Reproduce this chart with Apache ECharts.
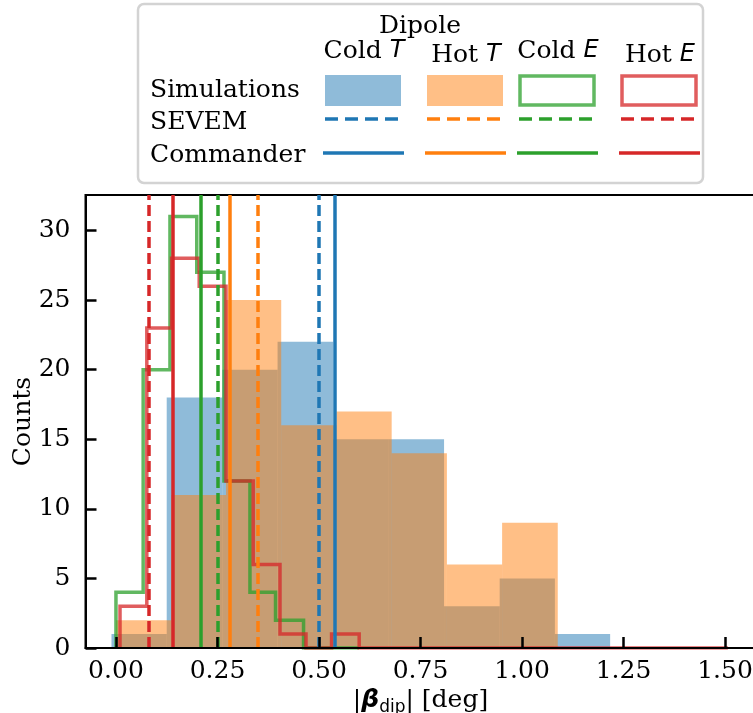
<!DOCTYPE html>
<html>
<head>
<meta charset="utf-8">
<script src="https://cdn.jsdelivr.net/npm/echarts@6/dist/echarts.min.js"></script>
<style>
  html, body { margin: 0; padding: 0; background: #fff; }
  #chart { width: 753px; height: 713px; }
</style>
</head>
<body>
<div id="chart"></div>
<script>
// bin edges / counts
var coldTEdges = [-0.011, 0.125, 0.262, 0.398, 0.535, 0.672, 0.808, 0.945, 1.081, 1.217]
var coldTCounts = [1, 18, 20, 22, 15, 15, 3, 5, 1]
var hotTEdges = [0.0, 0.136, 0.271, 0.407, 0.543, 0.679, 0.815, 0.951, 1.088]
var hotTCounts = [2, 11, 25, 16, 17, 14, 6, 9]
var coldEEdges = [0.0, 0.067, 0.133, 0.199, 0.266, 0.330, 0.393, 0.462, 0.530, 0.598]
var coldECounts = [4, 20, 31, 27, 12, 4, 2, 0, 0]
var hotEEdges = [0.010, 0.076, 0.137, 0.205, 0.271, 0.338, 0.404, 0.468, 0.531, 0.599, 1.507]
var hotECounts = [3, 23, 28, 26, 12, 6, 1, 0, 1, 0]

// observed values (vertical lines)
var sevem = { coldT: 0.500, hotT: 0.347, coldE: 0.254, hotE: 0.081 }
var commander = { coldT: 0.541, hotT: 0.277, coldE: 0.215, hotE: 0.144 }

var xTicks = [0, 0.25, 0.5, 0.75, 1.0, 1.25, 1.5]
var yTicks = [0, 5, 10, 15, 20, 25, 30]

var C = {
  blue: '#1f77b4',
  orange: '#ff7f0e',
  green: '#2ca02c',
  red: '#d62728'
}
var SERIF = 'DejaVu Serif'
var FS = 25

function barData(edges, counts) {
  return counts.map(function (c, i) { return [edges[i], edges[i + 1], c] })
}
function stepData(edges, counts) {
  var pts = [[edges[0], 0]]
  counts.forEach(function (c, i) {
    pts.push([edges[i], c])
    pts.push([edges[i + 1], c])
  })
  pts.push([edges[edges.length - 1], 0])
  return pts
}
function histSeries(edges, counts, fill) {
  return {
    type: 'custom',
    z: 2,
    silent: true,
    encode: { x: [0, 1], y: 2 },
    data: barData(edges, counts),
    renderItem: function (params, api) {
      var p0 = api.coord([api.value(0), api.value(2)])
      var p1 = api.coord([api.value(1), 0])
      return {
        type: 'rect',
        shape: { x: p0[0], y: p0[1], width: p1[0] - p0[0], height: p1[1] - p0[1] },
        style: { fill: fill }
      }
    }
  }
}
function stepSeries(edges, counts, color) {
  return {
    type: 'line',
    z: 3,
    silent: true,
    showSymbol: false,
    data: stepData(edges, counts),
    lineStyle: { color: color, width: 3.5, opacity: 0.75, join: 'miter' }
  }
}
function vline(value, color, dashed) {
  return {
    type: 'line',
    z: 4,
    silent: true,
    data: [],
    markLine: {
      silent: true,
      symbol: ['none', 'none'],
      label: { show: false },
      lineStyle: { color: color, width: 3.5, type: dashed ? [11, 5] : 'solid', opacity: 1 },
      data: [{ xAxis: value }]
    }
  }
}

// legend (drawn by hand, matrix layout)
var colX = [325, 427, 519, 621]
var colHead = ['Cold {i|T}', 'Hot {i|T}', 'Cold {i|E}', 'Hot {i|E}']
var colHeadY = [51, 55, 51, 55]
var colColor = [C.blue, C.orange, C.green, C.red]
var legendEls = [
  {
    type: 'rect', shape: { x: 138, y: 4, width: 565, height: 179, r: 6 },
    style: { fill: '#fff', stroke: '#d3d3d3', lineWidth: 2.5 }, z: 10
  },
  {
    type: 'text', x: 420, y: 26, z: 11,
    style: { text: 'Dipole', font: FS + 'px "' + SERIF + '"', fill: '#000', align: 'center', verticalAlign: 'middle' }
  }
]
;['Simulations', 'SEVEM', 'Commander'].forEach(function (t, i) {
  legendEls.push({
    type: 'text', x: 150, y: [90, 122, 155][i], z: 11,
    style: { text: t, font: FS + 'px "' + SERIF + '"', fill: '#000', align: 'left', verticalAlign: 'middle' }
  })
})
colX.forEach(function (x, i) {
  legendEls.push({
    type: 'text', x: x + 39, y: colHeadY[i], z: 11,
    style: {
      text: colHead[i], fill: '#000', align: 'center', verticalAlign: 'middle',
      font: FS + 'px "' + SERIF + '"',
      rich: { i: { fontFamily: 'DejaVu Sans', fontStyle: 'italic', fontSize: FS - 1 } }
    }
  })
  var filled = i < 2
  legendEls.push({
    type: 'rect', z: 11,
    shape: filled ? { x: x, y: 75, width: 76, height: 31 } : { x: x + 1, y: 76, width: 74, height: 29 },
    style: filled
      ? { fill: colColor[i], opacity: 0.5 }
      : { fill: 'none', stroke: colColor[i], lineWidth: 3.5, opacity: 0.75 }
  })
  legendEls.push({
    type: 'line', z: 11,
    shape: { x1: x, y1: 119, x2: x + 76, y2: 119 },
    style: { stroke: colColor[i], lineWidth: 3.5, lineDash: [13, 7] }
  })
  legendEls.push({
    type: 'line', z: 11,
    shape: { x1: x - 2, y1: 153, x2: x + 79, y2: 153 },
    style: { stroke: colColor[i], lineWidth: 3.5 }
  })
})

var chart = echarts.init(document.getElementById('chart'), null, { renderer: 'canvas' })
chart.setOption({
  animation: false,
  backgroundColor: '#fff',
  grid: {
    left: 85.5, right: -2.5, top: 195, bottom: 65,
    containLabel: false,
    outerBoundsMode: 'none',
    show: true, borderColor: '#000', borderWidth: 2, backgroundColor: 'transparent'
  },
  xAxis: {
    type: 'value',
    z: 10,
    min: -0.075,
    max: 1.575,
    splitLine: { show: false },
    axisLine: { onZero: false, lineStyle: { color: '#000', width: 2 } },
    axisTick: { inside: true, length: 11, customValues: xTicks, lineStyle: { color: '#000', width: 2.5 } },
    axisLabel: {
      customValues: xTicks, margin: 11, color: '#000', fontFamily: SERIF, fontSize: FS,
      formatter: function (v) { return v.toFixed(2) }
    },
    name: '|{b|β}{s|dip}| [deg]',
    nameLocation: 'middle',
    nameGap: 37,
    nameMoveOverlap: false,
    nameTextStyle: {
      color: '#000', fontFamily: SERIF, fontSize: FS,
      rich: {
        b: { fontFamily: 'DejaVu Sans', fontStyle: 'italic', fontWeight: 'bold', fontSize: FS },
        s: { fontFamily: 'DejaVu Sans', fontSize: 17, padding: [14, 0, 0, 0] }
      }
    }
  },
  yAxis: {
    type: 'value',
    z: 10,
    min: 0,
    max: 32.55,
    splitLine: { show: false },
    axisLine: { onZero: false, lineStyle: { color: '#000', width: 2 } },
    axisTick: { inside: true, length: 11, customValues: yTicks, lineStyle: { color: '#000', width: 2.5 } },
    axisLabel: { customValues: yTicks, margin: 15, color: '#000', fontFamily: SERIF, fontSize: FS },
    name: 'Counts',
    nameLocation: 'middle',
    nameGap: 50,
    nameMoveOverlap: false,
    nameRotate: 90,
    nameTextStyle: { color: '#000', fontFamily: SERIF, fontSize: FS }
  },
  graphic: legendEls,
  series: [
    histSeries(coldTEdges, coldTCounts, 'rgba(31,119,180,0.5)'),
    histSeries(hotTEdges, hotTCounts, 'rgba(255,127,14,0.5)'),
    stepSeries(coldEEdges, coldECounts, C.green),
    stepSeries(hotEEdges, hotECounts, C.red),
    vline(sevem.coldT, C.blue, true),
    vline(sevem.hotT, C.orange, true),
    vline(sevem.coldE, C.green, true),
    vline(sevem.hotE, C.red, true),
    vline(commander.coldT, C.blue, false),
    vline(commander.hotT, C.orange, false),
    vline(commander.coldE, C.green, false),
    vline(commander.hotE, C.red, false)
  ]
})
</script>
</body>
</html>
